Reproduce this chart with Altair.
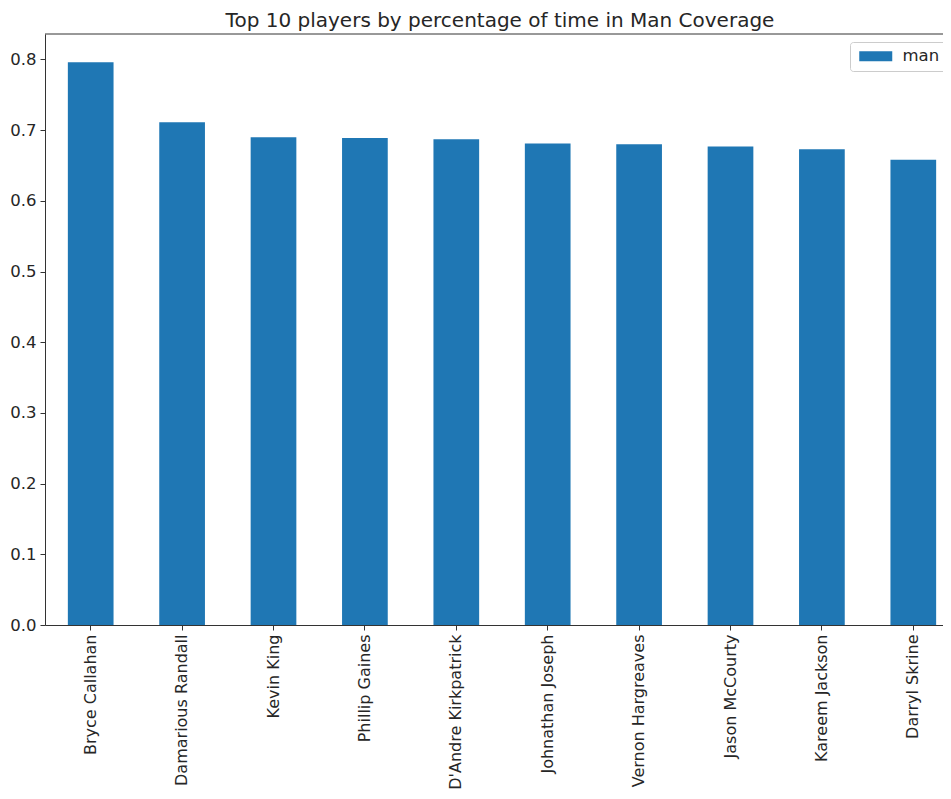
import altair as alt
import pandas as pd

players = ["Bryce Callahan", "Damarious Randall", "Kevin King", "Phillip Gaines",
           "D'Andre Kirkpatrick", "Johnathan Joseph", "Vernon Hargreaves",
           "Jason McCourty", "Kareem Jackson", "Darryl Skrine"]
man_pct = [0.796, 0.711, 0.690, 0.689, 0.687, 0.681, 0.680, 0.677, 0.673, 0.658]
series_name = ["man"] * len(players)
y_ticks = [0.0, 0.1, 0.2, 0.3, 0.4, 0.5, 0.6, 0.7, 0.8]

df = pd.DataFrame({"player": players, "man": man_pct, "series": series_name})

FONT = "DejaVu Sans"
INK = "#262626"

bars = alt.Chart(df).mark_bar().encode(
    x=alt.X("player:N", sort=players,
            scale=alt.Scale(range=[0, 914], paddingInner=0.5, paddingOuter=0.25),
            axis=alt.Axis(title=None, labelAngle=-90, labelAlign="right", labelBaseline="middle",
                          labelFontSize=16, labelFont=FONT, labelColor=INK,
                          tickSize=5, tickColor="#333", domainColor="#333",
                          labelPadding=4, labelLimit=300)),
    y=alt.Y("man:Q", scale=alt.Scale(domain=[0, 0.836], nice=False, zero=True),
            axis=alt.Axis(title=None, values=y_ticks, format=".1f", grid=False,
                          labelFontSize=16.5, labelFont=FONT, labelColor=INK,
                          tickSize=5, tickColor="#333", domainColor="#333",
                          labelPadding=4)),
    color=alt.Color("series:N", scale=alt.Scale(range=["#1f77b4"]),
                    legend=alt.Legend(title=None, orient="none", legendX=805, legendY=8,
                                      symbolType="M-1,-1H5.6V1H-1Z", symbolSize=100,
                                      symbolStrokeWidth=0, labelFontSize=16.5, labelFont=FONT,
                                      labelColor=INK, labelOffset=30,
                                      fillColor="white", strokeColor="#cccccc",
                                      cornerRadius=3, padding=6)),
)

top_spine = alt.Chart(pd.DataFrame({"v": [0.836]})).mark_rule(color="#333", strokeWidth=1).encode(
    y=alt.Y("v:Q")
)

chart = alt.layer(bars, top_spine).properties(
    width=898, height=591,
    title=alt.Title("Top 10 players by percentage of time in Man Coverage",
                    fontSize=20, font=FONT, fontWeight="normal", color=INK,
                    anchor="middle", offset=3, dx=6),
    autosize=alt.AutoSizeParams(type="none"),
    padding={"left": 37, "top": 26, "right": 0, "bottom": 166},
).configure_view(stroke=None)

chart.save("out.html", embed_options={"renderer": "svg", "actions": False})
